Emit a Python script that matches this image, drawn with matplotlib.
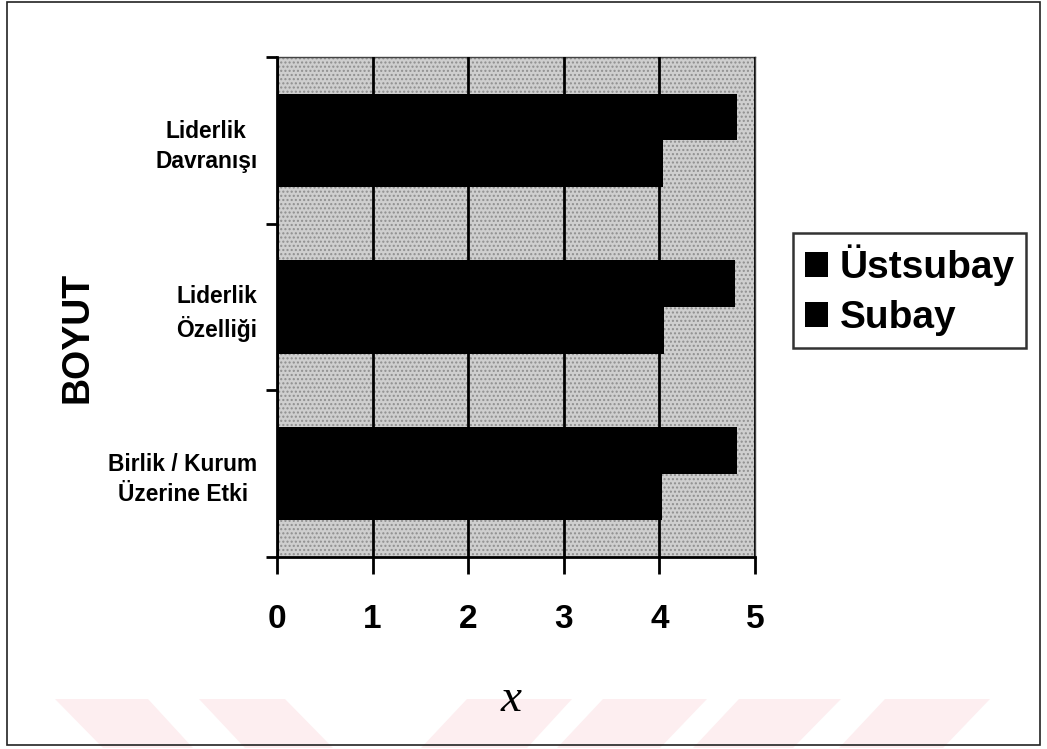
import matplotlib
matplotlib.use("Agg")
import matplotlib.pyplot as plt
from matplotlib.patches import Rectangle, Polygon
import numpy as np

categories = ["Liderlik\nDavranışı", "Liderlik\nÖzelliği", "Birlik / Kurum\nÜzerine Etki"]
series_names = ["Üstsubay", "Subay"]
ustsubay = [4.81, 4.79, 4.81]
subay = [4.04, 4.05, 4.03]
xticks = [0, 1, 2, 3, 4, 5]

W, H = 1047, 749
fig = plt.figure(figsize=(W / 100, H / 100), dpi=100)
fig.patch.set_facecolor("white")

# faint pink watermark stripes at bottom
pink = "#fdeef0"
stripes = [
    [(55, 699), (148, 699), (193, 748), (103, 748)],
    [(199, 699), (285, 699), (333, 748), (245, 748)],
    [(467, 699), (572, 699), (527, 748), (421, 748)],
    [(603, 699), (707, 699), (660, 748), (557, 748)],
    [(739, 699), (841, 699), (793, 748), (693, 748)],
    [(885, 699), (990, 699), (943, 748), (839, 748)],
]
for pts in stripes:
    fig.patches.append(Polygon([(px / W, 1 - py / H) for px, py in pts], closed=True,
                               transform=fig.transFigure, facecolor=pink, edgecolor="none", zorder=0))

# outer frame
fig.patches.append(Rectangle((7 / W, 1 - 745 / H), (1040 - 7) / W, (745 - 2) / H,
                             transform=fig.transFigure, fill=False, edgecolor="#222222", lw=1.2, zorder=1))

left, right, top, bottom = 277, 755, 57, 557
ax = fig.add_axes([left / W, 1 - bottom / H, (right - left) / W, (bottom - top) / H])
ax.set_facecolor("#cfcfcf")
ax.add_patch(Rectangle((0, 0), 1, 1, transform=ax.transAxes, facecolor="none",
                       edgecolor="#8f8f8f", hatch="....", lw=0, zorder=0))

n = len(categories)
ypos = np.arange(n)[::-1].astype(float)  # top category at highest y
bh = 0.28
ax.barh(ypos + bh / 2, ustsubay, height=bh, color="black", zorder=3, label=series_names[0])
ax.barh(ypos - bh / 2, subay, height=bh, color="black", zorder=3, label=series_names[1])

ax.set_xlim(0, 5)
ax.set_ylim(-0.5, n - 0.5)
ax.set_xticks(xticks)
ax.set_xticklabels([str(t) for t in xticks], fontsize=24, fontweight="bold",
                   family="Liberation Sans")
ax.tick_params(axis="x", direction="out", length=12, width=2, pad=22, colors="black")
ax.xaxis.grid(True, color="black", lw=2, zorder=2)
ax.set_axisbelow(False)
for gl in ax.get_xgridlines():
    gl.set_zorder(2)

ax.set_yticks(ypos)
ax.set_yticklabels(categories, fontsize=16.4, fontweight="bold", family="Liberation Sans",
                   multialignment="center", linespacing=1.4)
ax.tick_params(axis="y", which="major", length=0, pad=14)
ax.set_yticks(np.arange(-0.5, n, 1.0), minor=True)
ax.tick_params(axis="y", which="minor", direction="out", length=8, width=2)

for s in ["left", "bottom"]:
    ax.spines[s].set_linewidth(2)
    ax.spines[s].set_color("black")
for s in ["top", "right"]:
    ax.spines[s].set_linewidth(1)
    ax.spines[s].set_color("#444444")

fig.text(78 / W, 1 - 337 / H, "BOYUT", rotation=90, ha="center", va="center",
         fontsize=27, fontweight="bold", family="Liberation Sans")
fig.text(511 / W, 1 - 700 / H, "x", ha="center", va="center", fontsize=34,
         style="italic", family="Liberation Serif")

leg = fig.legend(loc="upper left", bbox_to_anchor=(793 / W, 1 - 233 / H),
                 prop={"family": "Liberation Sans", "weight": "bold", "size": 28},
                 frameon=True, fancybox=False, handlelength=0.6, handleheight=0.6,
                 handletextpad=0.3, borderpad=0.3, labelspacing=0.35, borderaxespad=0)
leg.get_frame().set_edgecolor("black")
leg.get_frame().set_linewidth(1.8)

fig.savefig("out.png", dpi=100)
